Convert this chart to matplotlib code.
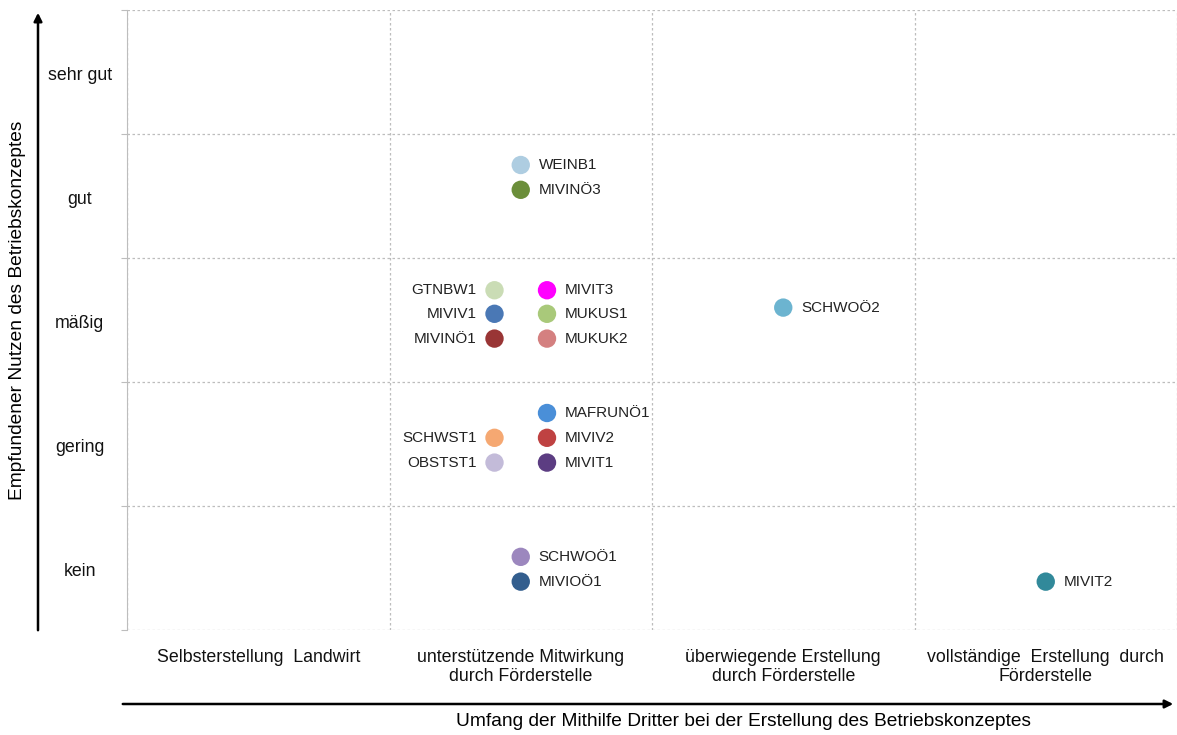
import matplotlib.pyplot as plt

plt.rcParams['font.family'] = ['Liberation Sans', 'DejaVu Sans']

# categories
x_cats = ["Selbsterstellung  Landwirt", "unterstützende Mitwirkung\ndurch Förderstelle",
          "überwiegende Erstellung\ndurch Förderstelle", "vollständige  Erstellung  durch\nFörderstelle"]
y_cats = ["kein", "gering", "mäßig", "gut", "sehr gut"]

# points: name, x, y (category units), label side
names = ["WEINB1", "MIVINÖ3", "GTNBW1", "MIVIV1", "MIVINÖ1", "MIVIT3", "MUKUS1", "MUKUK2",
         "SCHWOÖ2", "MAFRUNÖ1", "MIVIV2", "MIVIT1", "SCHWST1", "OBSTST1", "SCHWOÖ1", "MIVIOÖ1", "MIVIT2"]
xs = [1.50, 1.50, 1.40, 1.40, 1.40, 1.60, 1.60, 1.60,
      2.50, 1.60, 1.60, 1.60, 1.40, 1.40, 1.50, 1.50, 3.50]
ys = [3.75, 3.55, 2.74, 2.55, 2.35, 2.74, 2.55, 2.35,
      2.60, 1.75, 1.55, 1.35, 1.55, 1.35, 0.59, 0.39, 0.39]
sides = ["r", "r", "l", "l", "l", "r", "r", "r",
         "r", "r", "r", "r", "l", "l", "r", "r", "r"]
colors = ["#aecde1", "#6b8e3a", "#cadcb5", "#4a78b5", "#993535", "#ff00ff", "#a9c97a", "#d48080",
          "#6cb4d0", "#4a8fd8", "#bf4242", "#5c3d82", "#f5a872", "#c3bbd9", "#9c87be", "#335e8e", "#31899a"]

fig = plt.figure(figsize=(11.77, 7.35), dpi=100)
ax = fig.add_axes([127/1177, 1 - 630/735, 1050/1177, 620/735])

ax.set_xlim(0, 4)
ax.set_ylim(0, 5)

for x, y, n, s, c in zip(xs, ys, names, sides, colors):
    ax.scatter(x, y, s=175, color=c, zorder=3, edgecolors='none')
    if s == "r":
        ax.annotate(n, (x, y), xytext=(13, 0), textcoords='offset points',
                    ha='left', va='center', fontsize=11, color='#222222')
    else:
        ax.annotate(n, (x, y), xytext=(-13, 0), textcoords='offset points',
                    ha='right', va='center', fontsize=11, color='#222222')

# grid
ax.set_xticks(range(5))
ax.set_yticks(range(6))
ax.grid(True, linestyle=(0, (2, 2)), color='#bdbdbd', linewidth=0.9)
ax.set_xticklabels([])
ax.set_yticklabels([])
ax.tick_params(axis='x', length=0)
ax.tick_params(axis='y', length=4, color='#bdbdbd', direction='out')
for side in ['top', 'right', 'bottom']:
    ax.spines[side].set_visible(False)
ax.spines['left'].set_color('#bdbdbd')

# y category labels
for i, lab in enumerate(y_cats):
    ax.text(-0.18, i + 0.47, lab, ha='center', va='center', fontsize=12.8,
            transform=ax.transData, color='#111111')

# x category labels
for i, lab in enumerate(x_cats):
    ax.text(i + 0.5, -0.15, lab, ha='center', va='top', fontsize=12.8,
            linespacing=1.15, color='#111111')

# axis arrows
fig.patches.append(plt.matplotlib.patches.FancyArrowPatch(
    (38/1177, 1 - 633/735), (38/1177, 1 - 10/735), transform=fig.transFigure,
    arrowstyle='-|>', mutation_scale=12, color='black', linewidth=1.8))
fig.patches.append(plt.matplotlib.patches.FancyArrowPatch(
    (120/1177, 1 - 704/735), (1176/1177, 1 - 704/735), transform=fig.transFigure,
    arrowstyle='-|>', mutation_scale=12, color='black', linewidth=1.8))

fig.text(18/1177, 1 - 310/735, "Empfundener Nutzen des Betriebskonzeptes", rotation=90,
         ha='center', va='center', fontsize=13.8)
fig.text(743/1177, 1 - 722/735, "Umfang der Mithilfe Dritter bei der Erstellung des Betriebskonzeptes",
         ha='center', va='center', fontsize=13.8)

fig.savefig("out.png", dpi=100)
